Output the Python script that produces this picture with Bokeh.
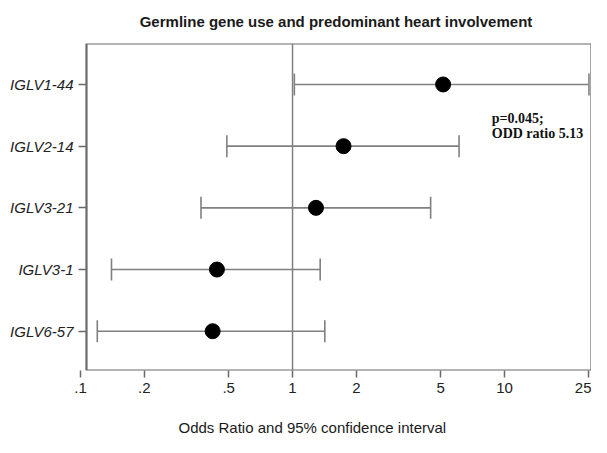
from bokeh.plotting import figure
from bokeh.models import (Range1d, FixedTicker, Span, Whisker, TeeHead, ColumnDataSource,
                          Label, Title, BoxAnnotation)
from bokeh.embed import file_html
from bokeh.resources import INLINE

# ---- data ----
genes = ["IGLV1-44", "IGLV2-14", "IGLV3-21", "IGLV3-1", "IGLV6-57"]
rows = [1, 2, 3, 4, 5]
odds = [5.13, 1.74, 1.29, 0.44, 0.42]
ci_low = [1.02, 0.49, 0.37, 0.14, 0.12]
ci_high = [25.0, 6.1, 4.48, 1.35, 1.42]
x_ticks = [0.1, 0.2, 0.5, 1, 2, 5, 10, 25]
x_tick_labels = [".1", ".2", ".5", "1", "2", "5", "10", "25"]
note_lines = ["p=0.045;", "ODD ratio 5.13"]

title_txt = "Germline gene use and predominant heart involvement"
xlabel_txt = "Odds Ratio and 95% confidence interval"

FONT = "Liberation Sans"
LINE = "#808080"
BOX = "#6a6a6a"

X_START, X_END = 0.1, 25.7
Y_BOTTOM, Y_TOP = 5.637, 0.336
p = figure(width=591, height=437, output_backend="svg", toolbar_location=None, title=None,
           x_axis_type="log", x_range=Range1d(X_START, X_END), y_range=Range1d(Y_BOTTOM, Y_TOP),
           min_border_left=80, min_border_right=0, min_border_top=43, min_border_bottom=67)

p.grid.visible = False
p.background_fill_color = "white"
p.border_fill_color = "white"
p.outline_line_color = None

# titles (spacer first: nearest to the frame)
p.add_layout(Title(text=" ", text_font_size="1px", standoff=11), "above")
p.add_layout(Title(text=title_txt, align="center", text_font=FONT, text_font_size="15px",
                   text_font_style="bold", text_color="#1a1a1a", standoff=0), "above")

# plot box: its left side sits a little right of the ".1" tick
box_left = X_START * 10 ** (6 / 212)
p.add_layout(BoxAnnotation(left=box_left, fill_alpha=0, line_color=BOX, line_alpha=1.0,
                           line_width=2.2))

# x axis
xa = p.xaxis[0]
xa.ticker = FixedTicker(ticks=x_ticks, minor_ticks=[])
xa.major_label_overrides = {t: l for t, l in zip(x_ticks, x_tick_labels)}
xa.axis_line_color = None
xa.major_tick_in = 0
xa.major_tick_out = 7
xa.major_tick_line_color = BOX
xa.major_tick_line_width = 1.5
xa.minor_tick_line_color = None
xa.major_label_text_font = FONT
xa.major_label_text_font_size = "15px"
xa.major_label_text_color = "#222222"
xa.major_label_standoff = 5

# y axis
ya = p.yaxis[0]
ya.ticker = FixedTicker(ticks=rows, minor_ticks=[])
ya.major_label_overrides = {r: g for r, g in zip(rows, genes)}
ya.axis_line_color = None
ya.major_tick_in = 6
ya.major_tick_out = 2
ya.major_tick_line_color = BOX
ya.major_tick_line_width = 1.5
ya.minor_tick_line_color = None
ya.major_label_text_font = FONT
ya.major_label_text_font_size = "15px"
ya.major_label_text_font_style = "italic"
ya.major_label_text_color = "#222222"
ya.major_label_standoff = 5

# x label (spacer first: nearest to the axis)
p.add_layout(Title(text=" ", text_font_size="1px", standoff=18), "below")
p.add_layout(Title(text=xlabel_txt, align="left", offset=98, text_font=FONT,
                   text_font_size="15px", text_font_style="normal", text_color="#1a1a1a",
                   standoff=0), "below")

# reference line at OR = 1
p.add_layout(Span(location=1, dimension="height", line_color=LINE, line_width=1.5))

src = ColumnDataSource(dict(row=rows, odds=odds, lo=ci_low, hi=ci_high))
wh = Whisker(source=src, base="row", lower="lo", upper="hi", dimension="width",
             line_color=LINE, line_width=1.6,
             lower_head=TeeHead(size=22, line_color=LINE, line_width=1.6),
             upper_head=TeeHead(size=22, line_color=LINE, line_width=1.6))
p.add_layout(wh)

p.scatter(x="odds", y="row", source=src, size=15, color="black", marker="circle")

for i, t in enumerate(note_lines):
    p.add_layout(Label(x=8.7, y=1.546 + 0.25 * i, text=t, text_font="Liberation Serif",
                       text_font_size="14px", text_font_style="bold", text_color="#111111",
                       text_baseline="alphabetic", text_align="left"))

open("out.html", "w").write(file_html(p, INLINE))
